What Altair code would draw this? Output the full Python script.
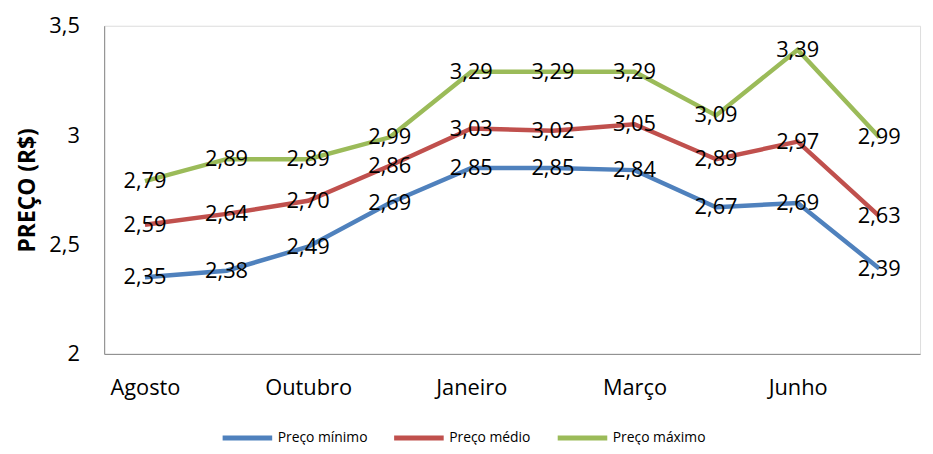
import altair as alt
import pandas as pd

meses = ["Agosto", "Setembro", "Outubro", "Novembro", "Janeiro",
         "Fevereiro", "Março", "Abril", "Junho", "Julho"]
meses_rotulo = ["Agosto", "Outubro", "Janeiro", "Março", "Junho"]
preco_min = [2.35, 2.38, 2.49, 2.69, 2.85, 2.85, 2.84, 2.67, 2.69, 2.39]
preco_med = [2.59, 2.64, 2.70, 2.86, 3.03, 3.02, 3.05, 2.89, 2.97, 2.63]
preco_max = [2.79, 2.89, 2.89, 2.99, 3.29, 3.29, 3.29, 3.09, 3.39, 2.99]
series = ["Preço mínimo", "Preço médio", "Preço máximo"]
cores = ["#4F81BD", "#C0504D", "#9BBB59"]
y_ticks = [2, 2.5, 3, 3.5]

rows = []
for s, vals in zip(series, [preco_min, preco_med, preco_max]):
    for m, v in zip(meses, vals):
        rows.append({"mes": m, "serie": s, "preco": v})
df = pd.DataFrame(rows)

FONT = "Open Sans"

x = alt.X("mes:N", sort=meses,
          scale=alt.Scale(type="point", padding=0.5),
          axis=alt.Axis(values=meses_rotulo, title=None, labelAngle=0, ticks=False,
                        labelPadding=24, labelFontSize=22, labelFont=FONT,
                        labelColor="black", domainColor="#878787", grid=False))
y = alt.Y("preco:Q",
          scale=alt.Scale(domain=[2, 3.5], nice=False, zero=False),
          axis=alt.Axis(values=y_ticks, labelExpr="replace(format(datum.value, ''), '.', ',')",
                        ticks=False, grid=False, title="PREÇO (R$)", titleFontSize=23,
                        titleFont=FONT, titleFontWeight="bold", titleColor="black",
                        titlePadding=9, labelPadding=25, labelFontSize=22, labelFont=FONT,
                        labelColor="black", domainColor="#878787"))

lines = alt.Chart(df).mark_line(strokeWidth=4.5).encode(
    x=x, y=y,
    color=alt.Color("serie:N", sort=series,
                    scale=alt.Scale(domain=series, range=cores),
                    legend=alt.Legend(orient="none", legendX=117, legendY=388,
                                      direction="horizontal", title=None,
                                      symbolType="stroke", symbolSize=2500,
                                      symbolStrokeWidth=5, labelFontSize=14,
                                      labelFont=FONT, labelColor="black",
                                      columnPadding=16, labelOffset=3)),
    detail="serie:N",
)

labels = alt.Chart(df).transform_calculate(
    rotulo="replace(format(datum.preco, '.2f'), '.', ',')"
).mark_text(fontSize=22, font=FONT, color="black", baseline="middle", align="center").encode(
    x=alt.X("mes:N", sort=meses), y="preco:Q", text="rotulo:N"
)

chart = alt.layer(lines, labels).properties(
    width=823, height=331,
    autosize=alt.AutoSizeParams(type="none"),
    padding={"left": 97, "top": 16, "right": 5, "bottom": 90},
).configure_view(stroke=None).configure(background="white")

chart.save("out.html", embed_options={"renderer": "svg", "actions": False})
